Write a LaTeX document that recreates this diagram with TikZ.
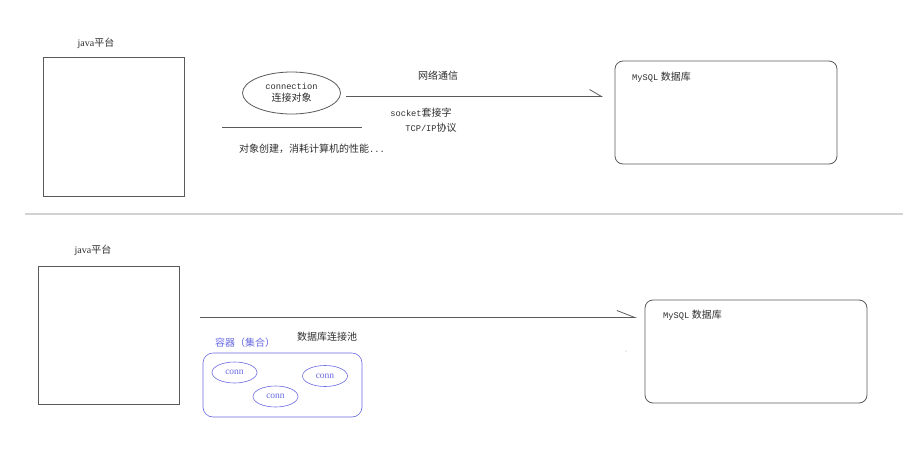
\documentclass[tikz,border=0pt]{standalone}
\usepackage{fontspec}
\setmainfont{Liberation Serif}
\setmonofont[Scale=0.87]{Liberation Mono}
\newfontfamily\cjk{Noto Sans CJK SC}
\usetikzlibrary{shapes.geometric,arrows.meta}
\definecolor{poolblue}{RGB}{105,105,225}
\definecolor{inkgray}{RGB}{90,90,90}
\definecolor{txtgray}{RGB}{45,45,45}
\begin{document}
\begin{tikzpicture}[x=1pt,y=-1pt,
		box/.style={draw=inkgray,line width=0.8pt,inner sep=0pt},
		lbl/.style={text=txtgray,inner sep=0pt,font=\fontsize{10}{12}\selectfont},
		link/.style={draw=inkgray,line width=0.8pt,-{Straight Barb[left,length=#1,width=14pt]}},
		conn/.style={ellipse,draw=poolblue,line width=0.6pt,minimum width=45pt,minimum height=21pt,
			inner sep=0pt,text=poolblue,font=\fontsize{9.5}{11}\selectfont}]
	\useasboundingbox (0,0) rectangle (919,464);
	% oben: jede Verbindung neu
	\node[lbl] (javaA) at (96,43) {java{\cjk 平台}};
	\node[box,minimum width=141pt,minimum height=139pt] (platA) at (113.5,126.5) {};
	\node[ellipse,box,minimum width=98pt,minimum height=42pt,align=center,lbl] (connobj) at (291.5,93)
		{\ttfamily connection\\{\cjk 连接对象}};
	\coordinate (cutL) at (222,127.5);
	\coordinate (cutR) at (362,127.5);
	\draw[draw=inkgray,line width=0.8pt] (cutL) -- (cutR);
	\node[lbl] (costA) at (312,149) {{\cjk 对象创建，消耗计算机的性能}\texttt{...}};
	\node[box,rounded corners=8pt,minimum width=222pt,minimum height=103pt] (mysqlA) at (726,112.5) {};
	\node[lbl,anchor=west] (mysqlAtxt) at (632,77) {\texttt{MySQL} {\cjk 数据库}};
	\coordinate (netS) at (346,96.5);
	\coordinate (netE) at (603,96.5);
	\draw[link=12pt] (netS) -- (netE);
	\node[lbl] (netA) at (438,76) {\cjk 网络通信};
	\node[lbl] (sockA) at (421,113) {\texttt{socket}{\cjk 套接字}};
	\node[lbl] (tcpA) at (431,128) {\texttt{TCP/IP}{\cjk 协议}};
	% Trennlinie
	\coordinate (sepL) at (25,214);
	\coordinate (sepR) at (903,214);
	\draw[gray!35,line width=1.5pt] (sepL) -- (sepR);
	% unten: Verbindungspool
	\node[lbl] (javaB) at (93,250) {java{\cjk 平台}};
	\node[box,minimum width=141pt,minimum height=138pt] (platB) at (108.5,335) {};
	\node[box,rounded corners=8pt,minimum width=222pt,minimum height=103pt] (mysqlB) at (756,351.5) {};
	\node[lbl,anchor=west] (mysqlBtxt) at (663,315) {\texttt{MySQL} {\cjk 数据库}};
	\coordinate (poolS) at (200,317.5);
	\coordinate (poolE) at (637,317.5);
	\draw[link=18pt] (poolS) -- (poolE);
	\fill[gray!60] (626,351) circle (0.6);
	\node[draw=poolblue,line width=0.6pt,rounded corners=10pt,minimum width=159pt,minimum height=64pt] (pool) at (282.5,385) {};
	\node[lbl,text=poolblue] (poolname) at (245,343) {\cjk 容器（集合）};
	\node[lbl] (pooltitle) at (327,337) {\cjk 数据库连接池};
	\node[conn] (connA) at (234.5,372.5) {conn};
	\node[conn] (connB) at (325,376) {conn};
	\node[conn] (connC) at (275.5,396.5) {conn};
\end{tikzpicture}
\end{document}
